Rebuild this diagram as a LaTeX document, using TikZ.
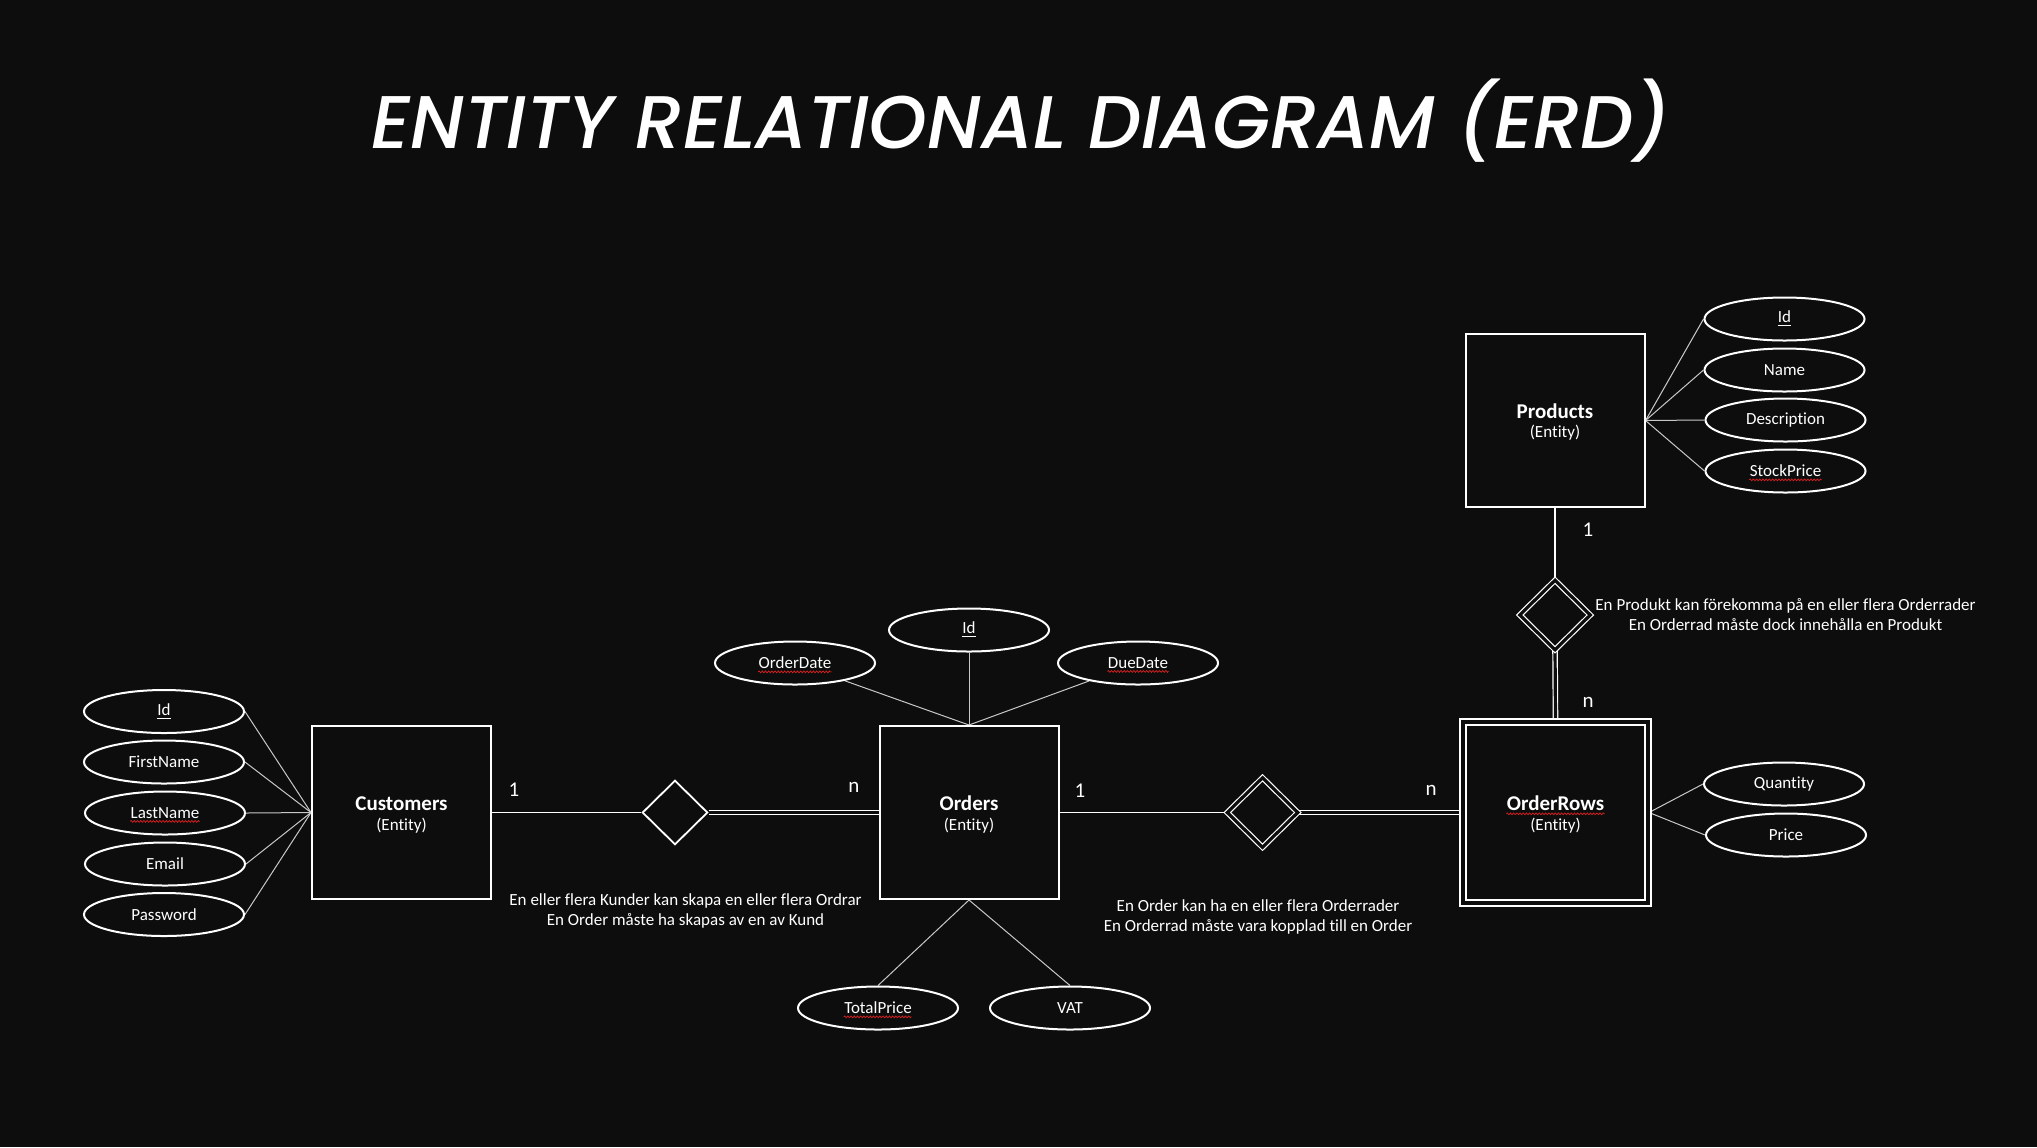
\documentclass[tikz,border=0pt]{standalone}
\usepackage{fontspec}
\setmainfont{Carlito}[Ligatures=NoCommon]
\newfontfamily\titlefont{Poppins Medium Italic}
\usetikzlibrary{shapes.geometric,decorations.pathmorphing}
\definecolor{bgc}{HTML}{0D0D0D}
\definecolor{lineg}{HTML}{C8C8C8}
\definecolor{spellred}{HTML}{E02020}
\newcommand\wave[1]{\draw[wavy] ([yshift=-1.5pt]#1.base west) -- ([yshift=-1.5pt]#1.base east);}
\newlength\ordw
\pgfdeclarelayer{back}
\pgfdeclarelayer{conn}
\pgfsetlayers{back,conn,main}
\begin{document}
\begin{tikzpicture}[x=0.5pt,y=-0.5pt,
  ent/.style={draw=white, line width=1pt, minimum width=89.5pt, minimum height=86.5pt, inner sep=0pt},
  went/.style={ent, double=bgc, double distance=2pt, minimum width=92.5pt, minimum height=90.5pt},
  attr/.style={ellipse, draw=white, line width=1pt, minimum width=80pt, minimum height=21.5pt, inner sep=0pt, text=white, font=\fontsize{8.5}{10}\selectfont},
  wtext/.style={text=white, inner sep=0pt, font=\fontsize{8.5}{10}\selectfont},
  btext/.style={text=white, inner sep=0pt, font=\fontsize{10.5}{11}\selectfont\bfseries},
  rel/.style={diamond, draw=white, line width=0.9pt, inner sep=0pt, minimum width=32.7pt, minimum height=32.2pt},
  wrel/.style={diamond, draw=white, double=bgc, double distance=1.6pt, line width=0.6pt, inner sep=0pt, minimum width=35.5pt, minimum height=35pt},
  card/.style={text=white, font=\fontsize{10.5}{12}\selectfont, inner sep=0pt},
  note/.style={text=white, font=\fontsize{8.5}{10}\selectfont, inner sep=0pt},
  alink/.style={draw=lineg, line width=0.5pt},
  rlink/.style={draw=white, line width=0.6pt},
  dlink/.style={draw=white, double=bgc, double distance=1.6pt, line width=0.6pt},
  wavy/.style={draw=spellred, line width=0.35pt, decorate, decoration={zigzag, amplitude=0.45pt, segment length=1.6pt}}
]
\begin{pgfonlayer}{back}
\fill[bgc] (0,0) rectangle (2037,1147);
\end{pgfonlayer}
\useasboundingbox (0,0) rectangle (2037,1147);

% title
\node[anchor=base, text=white, inner sep=0pt] (title) at (1021,148)
  {\resizebox{649pt}{!}{\titlefont ENTITY RELATIONAL DIAGRAM (ERD)}};

% entities
\node[ent] (cust) at (401.5,812.5) {};
\node[btext] (cust-t) at (401.5,803.5) {Customers};
\node[wtext] (cust-e) at (401.5,825.5) {(Entity)};
\node[ent] (orders) at (969,812.5) {};
\node[btext] (orders-t) at (969,803.5) {Orders};
\node[wtext] (orders-e) at (969,825.5) {(Entity)};
\node[ent] (prod) at (1555,420.5) {};
\node[btext] (prod-t) at (1555,411) {Products};
\node[wtext] (prod-e) at (1555,433) {(Entity)};
\node[went] (orows) at (1555.5,812.5) {};
\node[btext] (orows-t) at (1555.5,803.5) {OrderRows};
\node[wtext] (orows-e) at (1555.5,825.5) {(Entity)};
\wave{orows-t}

% relationships
\node[rel] (d1) at (675,812.5) {};
\node[wrel] (d2) at (1262.5,812.5) {};
\node[wrel] (d3) at (1555,615) {};

% customer attributes
\node[attr] (c1) at (164,711.5) {\underline{Id}};
\node[attr] (c2) at (164,762) {FirstName};
\node[attr] (c3) at (165,813) {};
\node[wtext] (c3-t) at (165,813) {LastName};
\wave{c3-t}
\node[attr] (c4) at (165,864) {Email};
\node[attr] (c5) at (164,914.5) {Password};

% order attributes
\node[attr] (oid) at (969,630) {\underline{Id}};
\node[attr] (odate) at (795,663) {};
\node[wtext] (odate-t) at (795,663) {OrderDate};
\wave{odate-t}
\node[attr] (ddate) at (1138,663) {};
\node[wtext] (ddate-t) at (1138,663) {DueDate};
\wave{ddate-t}
\node[attr] (tp) at (878,1008) {};
\node[wtext] (tp-t) at (878,1008) {TotalPrice};
\wave{tp-t}
\node[attr] (vat) at (1070,1008) {VAT};

% orderrow attributes
\node[attr] (q) at (1784,784) {Quantity};
\node[attr] (pr) at (1786,835) {Price};

% product attributes
\node[attr] (pid) at (1784.5,319) {\underline{Id}};
\node[attr] (pname) at (1784.5,370) {Name};
\node[attr] (pdesc) at (1785.5,420) {Description};
\node[attr] (pstock) at (1785.5,471) {};
\node[wtext] (pstock-t) at (1785.5,471) {StockPrice};
\wave{pstock-t}

% cardinalities
\node[card] (k1) at (514,790) {1};
\node[card] (k2) at (854,787) {n};
\node[card] (k3) at (1080,791) {1};
\node[card] (k4) at (1431,790) {n};
\node[card] (k5) at (1588,530) {1};
\node[card] (k6) at (1588,702) {n};

% notes
\node[note, anchor=base] (n1a) at (685.5,905) {En eller flera Kunder kan skapa en eller flera Ordrar};
\node[note, anchor=base] (n1b) at (685.5,925) {En Order måste ha skapas av en av Kund};
\settowidth{\ordw}{\fontsize{8.5}{10}\selectfont Ordrar}
\draw[wavy] ([yshift=-1.5pt,xshift=-\ordw]n1a.base east) -- ([yshift=-1.5pt]n1a.base east);
\node[note, anchor=base] (n2a) at (1258,911) {En Order kan ha en eller flera Orderrader};
\node[note, anchor=base] (n2b) at (1258,931) {En Orderrad måste vara kopplad till en Order};
\node[note, anchor=base] (n3a) at (1785.5,610) {En Produkt kan förekomma på en eller flera Orderrader};
\node[note, anchor=base] (n3b) at (1785.5,630) {En Orderrad måste dock innehålla en Produkt};

\begin{pgfonlayer}{conn}
\foreach \a in {c1,c2,c3,c4,c5} \draw[alink] (\a.east) -- (cust.west);
\draw[alink] (odate) -- (orders.north);
\draw[alink] (oid) -- (orders.north);
\draw[alink] (ddate) -- (orders.north);
\draw[alink] (orders.south) -- (tp.north);
\draw[alink] (orders.south) -- (vat.north);
\draw[alink] (orows.east) -- (q.west);
\draw[alink] (orows.east) -- (pr.west);
\foreach \a in {pid,pname,pdesc,pstock} \draw[alink] (prod.east) -- (\a.west);
\draw[rlink] (cust.east) -- (d1.west);
\draw[dlink] (d1.east) -- (orders.west);
\draw[rlink] (orders.east) -- (d2.west);
\draw[dlink] (d2.east) -- (orows.west);
\draw[rlink] (prod.south) -- (d3.north);
\draw[dlink] (d3.south) -- (orows.north);
\end{pgfonlayer}
\end{tikzpicture}
\end{document}
